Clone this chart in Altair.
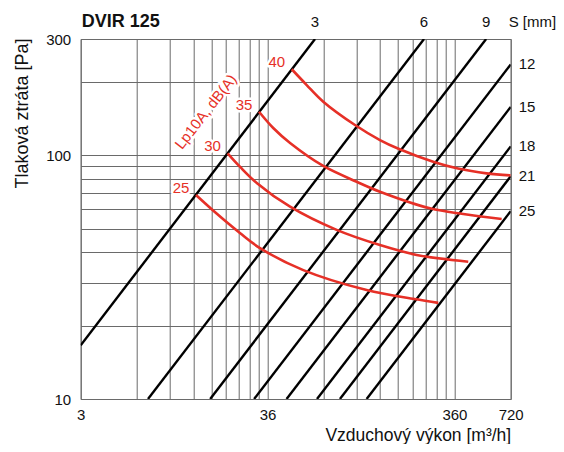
import altair as alt
import pandas as pd

FONT = "Liberation Sans"
GRID = "#6a6a6a"
RED = "#e63027"

# ---- axis grid / tick values (m3/h and Pa) ----
X_GRID = [3.6, 7.2, 10.8, 14.4, 18, 21.6, 25.2, 28.8, 32.4,
          36, 72, 108, 144, 180, 216, 252, 288, 324, 360, 720]
X_TICK_VALUES = [3.6, 36, 360, 720]
X_TICK_TEXT = ["3", "36", "360", "720"]
Y_GRID = [10, 20, 30, 40, 50, 60, 70, 80, 90, 100, 200, 300]
Y_TICK_VALUES = [10, 100, 300]

# ---- S [mm] lines: start and end points ----
S_VALUES = [3, 6, 9, 12, 15, 18, 21, 25]
S_Q_START = [3.6, 8.25, 17.75, 30.5, 45.5, 66.2, 87.8, 122]
S_P_START = [16.6, 10, 10, 10, 10, 10, 10, 10]
S_Q_END = [64.6, 247.5, 532, 720, 720, 720, 720, 720]
S_P_END = [300, 300, 300, 236, 158, 108.8, 82, 59]

# ---- Lp10A dB(A) curves ----
LP_LEVELS = [40, 35, 30, 25]
LP40_Q = [48.5, 58.3, 71.5, 105.7, 143.8, 182, 277, 376, 535, 720]
LP40_P = [225.4, 194.2, 165.9, 133.1, 115.5, 106.1, 94.1, 88.2, 84.3, 82.7]
LP35_Q = [32.4, 38.6, 47.5, 71.5, 107.9, 143.8, 266.2, 401.3, 644]
LP35_P = [150.9, 129.4, 112.3, 90.4, 77.9, 70.9, 60.6, 57.4, 54.8]
LP30_Q = [22.0, 25.6, 31.5, 47.5, 84.3, 143.8, 226, 426.7]
LP30_P = [101.9, 89.8, 77.0, 61.5, 49.4, 42.8, 39, 36.6]
LP25_Q = [14.9, 18.8, 25.6, 32.8, 55.9, 122, 220, 294.8]
LP25_P = [68.7, 58.5, 48.0, 41.6, 33.8, 28.0, 25.7, 24.8]

LP_NAME = "Lp10A, dB(A)"
LP_NAME_Q = 16.8
LP_NAME_P = 150.9

TITLE = "DVIR 125"
UNIT = "S [mm]"

# ---- tables ----
s_rows = []
for s, q1, p1, q2, p2 in zip(S_VALUES, S_Q_START, S_P_START, S_Q_END, S_P_END):
    s_rows.append({"S": s, "q": q1, "p": p1})
    s_rows.append({"S": s, "q": q2, "p": p2})
s_df = pd.DataFrame(s_rows)

s_end = pd.DataFrame({"S": [str(v) for v in S_VALUES], "q": S_Q_END, "p": S_P_END})
s_top = s_end[s_end["q"] < 720]
s_right = s_end[s_end["q"] >= 720]
s_unit = pd.DataFrame({"t": [UNIT], "q": [720], "p": [300]})
title_df = pd.DataFrame({"t": [TITLE], "q": [3.6], "p": [300]})

lp_rows = []
for lvl, qs, ps in zip(LP_LEVELS, [LP40_Q, LP35_Q, LP30_Q, LP25_Q],
                       [LP40_P, LP35_P, LP30_P, LP25_P]):
    for q, p in zip(qs, ps):
        lp_rows.append({"L": lvl, "q": q, "p": p})
lp_df = pd.DataFrame(lp_rows)
lp_start = pd.DataFrame({"L": [str(v) for v in LP_LEVELS],
                         "q": [LP40_Q[0], LP35_Q[0], LP30_Q[0], LP25_Q[0]],
                         "p": [LP40_P[0], LP35_P[0], LP30_P[0], LP25_P[0]]})
lp_name = pd.DataFrame({"t": [LP_NAME], "q": [LP_NAME_Q], "p": [LP_NAME_P]})

xscale = alt.Scale(type="log", domain=[3.6, 720], nice=False)
yscale = alt.Scale(type="log", domain=[10, 300], nice=False)

x_expr = " : ".join(
    f"datum.value == {v} ? '{t}'" for v, t in zip(X_TICK_VALUES, X_TICK_TEXT)) + " : ''"
y_expr = "indexof(" + str(Y_TICK_VALUES) + ", datum.value) >= 0 ? datum.label : ''"

x_axis = alt.Axis(values=X_GRID, labelExpr=x_expr, grid=True, gridColor=GRID,
                  gridWidth=1, gridOpacity=1, ticks=False, domain=False,
                  labelFlush=False, labelOverlap=False, labelFont=FONT,
                  labelFontSize=15, labelColor="#111", labelPadding=8,
                  title="Vzduchový výkon [m³/h]", titleFont=FONT,
                  titleFontSize=17.5, titleFontWeight="normal", titleColor="#111",
                  titleAnchor="end", titleAlign="right", titleX=430, titleY=41,
                  titleBaseline="alphabetic")
y_axis = alt.Axis(values=Y_GRID, labelExpr=y_expr, grid=True, gridColor=GRID,
                  gridWidth=1, gridOpacity=1, ticks=False, domain=False,
                  labelFlush=False, labelOverlap=False, labelFont=FONT,
                  labelFontSize=15, labelColor="#111", labelPadding=10,
                  title="Tlaková ztráta [Pa]", titleFont=FONT, titleFontSize=18,
                  titleFontWeight="normal", titleColor="#111", titleAngle=270,
                  titleAlign="right", titleBaseline="middle", titleX=-58,
                  titleY=-1)

X = alt.X("q:Q", scale=xscale, axis=x_axis)
Y = alt.Y("p:Q", scale=yscale, axis=y_axis)

s_lines = alt.Chart(s_df).mark_line(color="#000", strokeWidth=2.4, clip=True).encode(
    x=X, y=Y, detail="S:N")

lp_lines = alt.Chart(lp_df).mark_line(color=RED, strokeWidth=2.6,
                                      interpolate="catmull-rom", clip=True).encode(
    x=X, y=Y, detail="L:N", order="q:Q")

txt = dict(font=FONT, fontSize=15, color="#111")
title_lbl = alt.Chart(title_df).mark_text(dy=-17, dx=1, align="left", baseline="middle",
                                          font=FONT, fontSize=18, fontWeight="bold",
                                          color="#111").encode(x=X, y=Y, text="t:N")
top_lbl = alt.Chart(s_top).mark_text(dy=-17, align="center", baseline="middle", **txt).encode(
    x=X, y=Y, text="S:N")
unit_lbl = alt.Chart(s_unit).mark_text(dy=-17, dx=-2, align="left", baseline="middle",
                                       font=FONT, fontSize=15, color="#111").encode(
    x=X, y=Y, text="t:N")
right_lbl = alt.Chart(s_right).mark_text(dx=8, align="left", baseline="middle", **txt).encode(
    x=X, y=Y, text="S:N")

halo = dict(fill="white", stroke="white", strokeWidth=5, strokeJoin="round")
lp_lbl_halo = alt.Chart(lp_start).mark_text(dx=-15, dy=-7, align="center", baseline="middle",
                                            font=FONT, fontSize=15, **halo).encode(
    x=X, y=Y, text="L:N")
lp_lbl = alt.Chart(lp_start).mark_text(dx=-15, dy=-7, align="center", baseline="middle",
                                       font=FONT, fontSize=15, color=RED).encode(
    x=X, y=Y, text="L:N")
name_halo = alt.Chart(lp_name).mark_text(angle=308, align="center", baseline="middle",
                                         font=FONT, fontSize=15, **halo).encode(
    x=X, y=Y, text="t:N")
name_lbl = alt.Chart(lp_name).mark_text(angle=308, align="center", baseline="middle",
                                        font=FONT, fontSize=15, color=RED).encode(
    x=X, y=Y, text="t:N")

chart = alt.layer(
    s_lines, lp_lines, title_lbl, top_lbl, unit_lbl, right_lbl,
    lp_lbl_halo, name_halo, lp_lbl, name_lbl
).properties(
    width=430, height=360,
    autosize=alt.AutoSizeParams(type="none"),
    padding={"left": 72.7, "top": 31, "right": 45.3, "bottom": 45},
    background="white",
).configure_view(stroke=GRID, strokeWidth=1)

chart.save("out.html", embed_options={"renderer": "svg", "actions": False})
